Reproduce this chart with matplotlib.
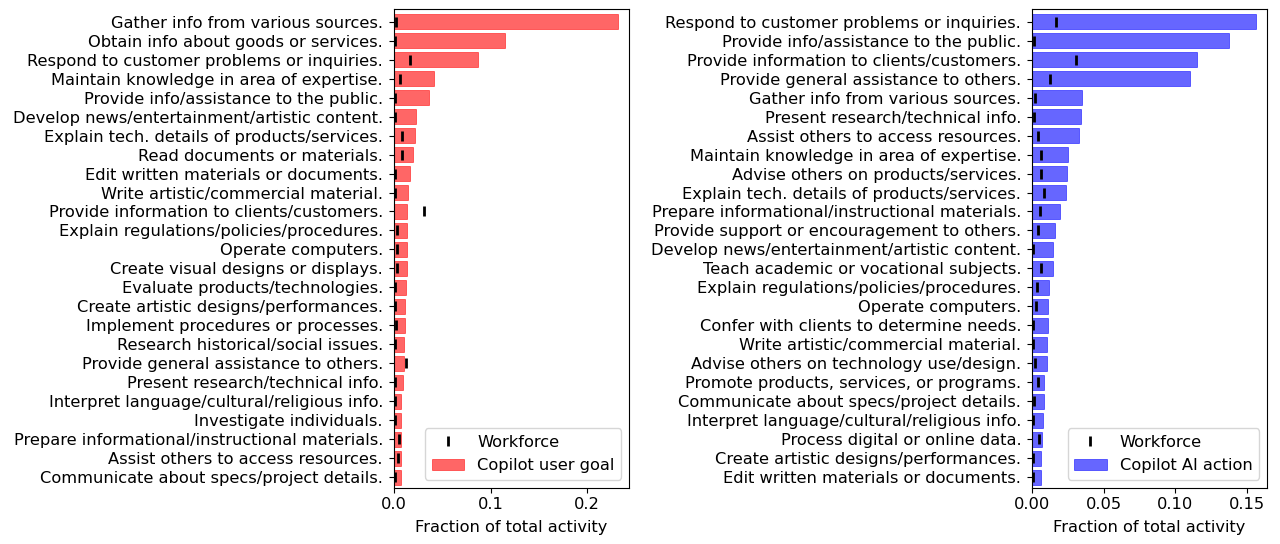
import matplotlib.pyplot as plt
import numpy as np

# left panel: user goals
goal_labels = [
    "Gather info from various sources.",
    "Obtain info about goods or services.",
    "Respond to customer problems or inquiries.",
    "Maintain knowledge in area of expertise.",
    "Provide info/assistance to the public.",
    "Develop news/entertainment/artistic content.",
    "Explain tech. details of products/services.",
    "Read documents or materials.",
    "Edit written materials or documents.",
    "Write artistic/commercial material.",
    "Provide information to clients/customers.",
    "Explain regulations/policies/procedures.",
    "Operate computers.",
    "Create visual designs or displays.",
    "Evaluate products/technologies.",
    "Create artistic designs/performances.",
    "Implement procedures or processes.",
    "Research historical/social issues.",
    "Provide general assistance to others.",
    "Present research/technical info.",
    "Interpret language/cultural/religious info.",
    "Investigate individuals.",
    "Prepare informational/instructional materials.",
    "Assist others to access resources.",
    "Communicate about specs/project details.",
]
goal_copilot = [0.2318, 0.1147, 0.0874, 0.0411, 0.0360, 0.0228, 0.0222, 0.0194, 0.0166,
                 0.0149, 0.0139, 0.0132, 0.0132, 0.0132, 0.0121, 0.0118, 0.0118, 0.0107,
                 0.0100, 0.0097, 0.0073, 0.0073, 0.0073, 0.0073, 0.0073]
goal_workforce = [0.0020, 0.0007, 0.0166, 0.0066, 0.0010, 0.0007, 0.0083, 0.0083, 0.0007,
                  0.0010, 0.0308, 0.0035, 0.0028, 0.0035, 0.0010, 0.0010, 0.0017, 0.0007,
                  0.0128, 0.0014, 0.0007, 0.0007, 0.0056, 0.0038, 0.0010]

# right panel: AI actions
action_labels = [
    "Respond to customer problems or inquiries.",
    "Provide info/assistance to the public.",
    "Provide information to clients/customers.",
    "Provide general assistance to others.",
    "Gather info from various sources.",
    "Present research/technical info.",
    "Assist others to access resources.",
    "Maintain knowledge in area of expertise.",
    "Advise others on products/services.",
    "Explain tech. details of products/services.",
    "Prepare informational/instructional materials.",
    "Provide support or encouragement to others.",
    "Develop news/entertainment/artistic content.",
    "Teach academic or vocational subjects.",
    "Explain regulations/policies/procedures.",
    "Operate computers.",
    "Confer with clients to determine needs.",
    "Write artistic/commercial material.",
    "Advise others on technology use/design.",
    "Promote products, services, or programs.",
    "Communicate about specs/project details.",
    "Interpret language/cultural/religious info.",
    "Process digital or online data.",
    "Create artistic designs/performances.",
    "Edit written materials or documents.",
]
action_copilot = [0.1565, 0.1374, 0.1154, 0.1105, 0.0350, 0.0339, 0.0325, 0.0250, 0.0241,
                  0.0234, 0.0194, 0.0159, 0.0145, 0.0143, 0.0117, 0.0108, 0.0108, 0.0101,
                  0.0101, 0.0084, 0.0084, 0.0077, 0.0070, 0.0059, 0.0059]
action_workforce = [0.0166, 0.0010, 0.0308, 0.0126, 0.0021, 0.0012, 0.0040, 0.0063, 0.0061,
                    0.0084, 0.0054, 0.0040, 0.0005, 0.0059, 0.0035, 0.0028, 0.0007, 0.0007,
                    0.0017, 0.0040, 0.0010, 0.0005, 0.0047, 0.0005, 0.0005]


def panel(ax, labels, copilot, workforce, color, bar_label):
    y = np.arange(len(labels))
    ax.barh(y, copilot, height=0.8, color=color, alpha=0.6, edgecolor=color,
            linewidth=0.6, label=bar_label)
    ax.plot(workforce, y, linestyle="none", marker="|", color="k", markersize=7.5,
            markeredgewidth=2, label="Workforce")
    ax.set_yticks(y)
    ax.set_yticklabels(labels)
    ax.tick_params(axis="y", pad=4.5)
    ax.set_ylim(len(labels) - 0.46, -0.66)
    ax.set_xlim(0, max(copilot) * 1.05)
    ax.set_xlabel("Fraction of total activity", labelpad=5.5)
    ax.legend(loc="lower right")


plt.rcParams["font.size"] = 11.7
fig = plt.figure(figsize=(12.8, 5.44), dpi=100)
ax1 = fig.add_axes([394 / 1280, 56.3 / 544, 235 / 1280, 478.7 / 544])
ax2 = fig.add_axes([1032.3 / 1280, 56.3 / 544, 234.7 / 1280, 478.7 / 544])

panel(ax1, goal_labels, goal_copilot, goal_workforce, "red", "Copilot user goal")
panel(ax2, action_labels, action_copilot, action_workforce, "blue", "Copilot AI action")
ax1.set_xticks([0.0, 0.1, 0.2])
ax2.set_xticks([0.0, 0.05, 0.10, 0.15])

fig.savefig("out.png", dpi=100)
